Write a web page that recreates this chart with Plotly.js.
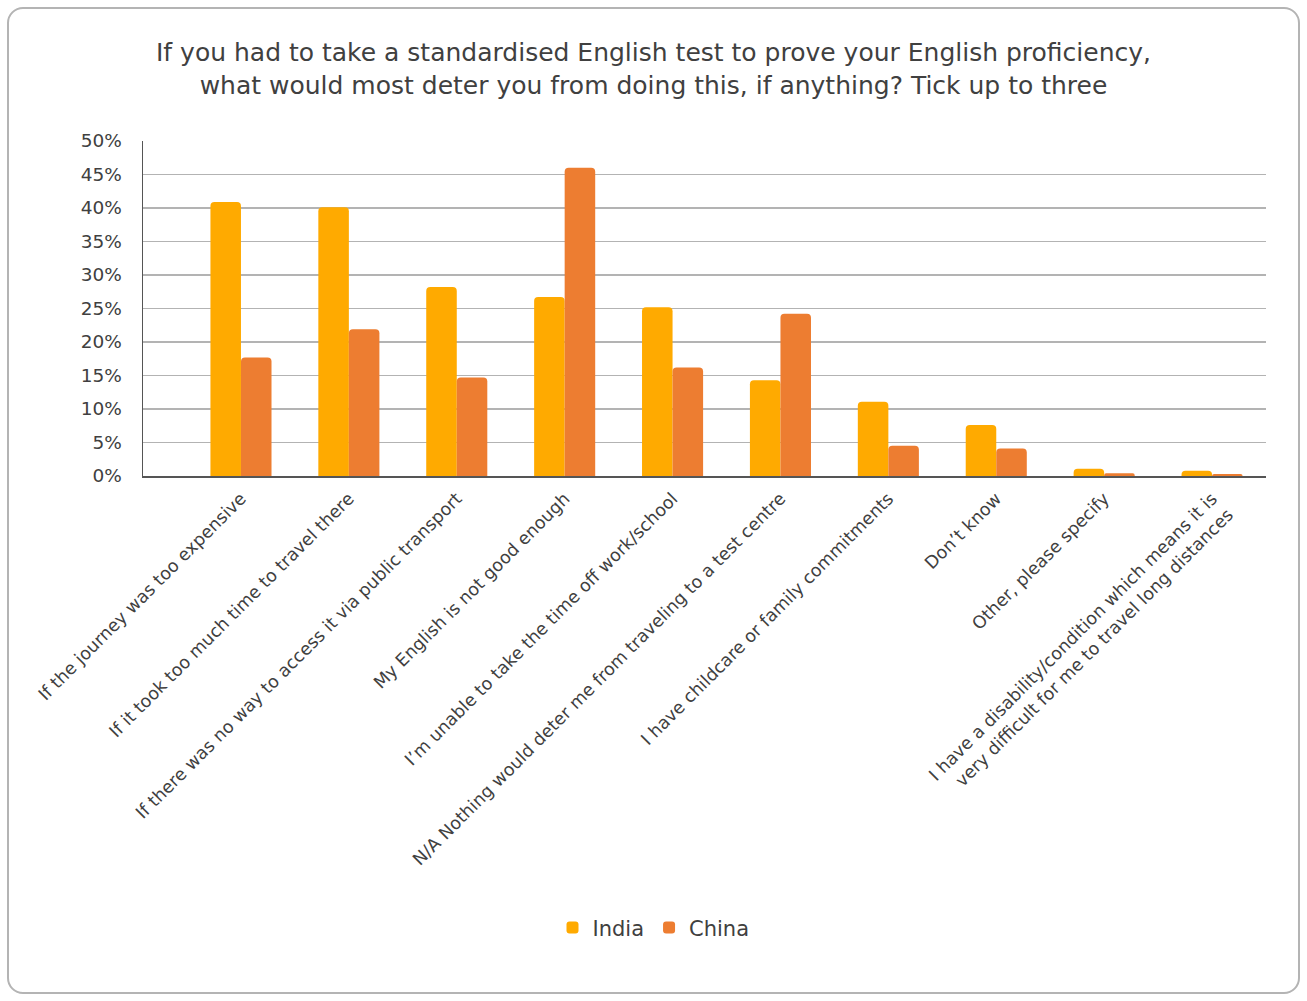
<!DOCTYPE html>
<html>
<head>
<meta charset="utf-8">
<script src="https://cdn.plot.ly/plotly-3.0.1.min.js"></script>
<style>
html,body{margin:0;padding:0;background:#fff;}
#wrap{position:relative;width:1307px;height:1001px;}
#chart{position:absolute;left:0;top:0;width:1307px;height:1001px;}
#frame{position:absolute;left:7px;top:7px;width:1293px;height:987px;box-sizing:border-box;border:2px solid #b4b4b4;border-radius:16px;pointer-events:none;}
</style>
</head>
<body>
<div id="wrap"><div id="chart"></div><div id="frame"></div></div>
<script>
const categories = [
  "If the journey was too expensive",
  "If it took too much time to travel there",
  "If there was no way to access it via public transport",
  "My English is not good enough",
  "I’m unable to take the time off work/school",
  "N/A Nothing would deter me from traveling to a test centre",
  "I have childcare or family commitments",
  "Don’t know",
  "Other, please specify",
  "I have a disability/condition which means it is<br>very difficult for me to travel long distances"
];
const india = [0.409, 0.401, 0.282, 0.267, 0.252, 0.143, 0.111, 0.076, 0.011, 0.008];
const china = [0.177, 0.219, 0.147, 0.460, 0.162, 0.242, 0.045, 0.041, 0.004, 0.003];
const seriesNames = ["India", "China"];
const colors = ["#FFAA00", "#ED7D31"];

const font = "'DejaVu Sans', sans-serif";
const traces = [india, china].map((vals, i) => ({
  type: "bar",
  name: seriesNames[i],
  x: categories,
  y: vals,
  marker: {color: colors[i], cornerradius: 4},
  hoverinfo: "skip"
}));

const layout = {
  width: 1307, height: 1001,
  paper_bgcolor: "rgba(0,0,0,0)",
  plot_bgcolor: "#fff",
  margin: {l: 143, r: 41, t: 141, b: 525},
  font: {family: font, color: "#404040"},
  title: {
    text: "If you had to take a standardised English test to prove your English proficiency,<br>what would most deter you from doing this, if anything? Tick up to three",
    font: {family: font, size: 25, color: "#404040"},
    x: 0.5, xanchor: "center",
    y: 0.939, yanchor: "top", yref: "container"
  },
  barmode: "group",
  bargap: 0.434,
  bargroupgap: 0,
  xaxis: {
    type: "category",
    range: [-0.908, 9.5],
    tickangle: -45,
    tickfont: {family: font, size: 17.5, color: "#404040"},
    ticklabelstandoff: 4,
    showgrid: false,
    showline: true, linecolor: "#555", linewidth: 1.5,
    ticks: "",
    automargin: false
  },
  yaxis: {
    range: [0, 0.5],
    dtick: 0.05,
    tickformat: ".0%",
    tickfont: {family: font, size: 18.5, color: "#404040"},
    ticklabelstandoff: 16,
    gridcolor: "#b3b3b3", gridwidth: 1.5,
    showline: true, linecolor: "#555", linewidth: 1.5,
    zeroline: false,
    ticks: "", ticklen: 0,
    automargin: false
  },
  showlegend: true,
  legend: {
    orientation: "h",
    x: 0.5, xanchor: "center", xref: "container",
    y: 0.073, yanchor: "middle", yref: "container",
    font: {family: font, size: 21, color: "#404040"},
    itemwidth: 30,
    traceorder: "normal"
  }
};
Plotly.newPlot("chart", traces, layout, {displayModeBar: false, staticPlot: true});
</script>
</body>
</html>
